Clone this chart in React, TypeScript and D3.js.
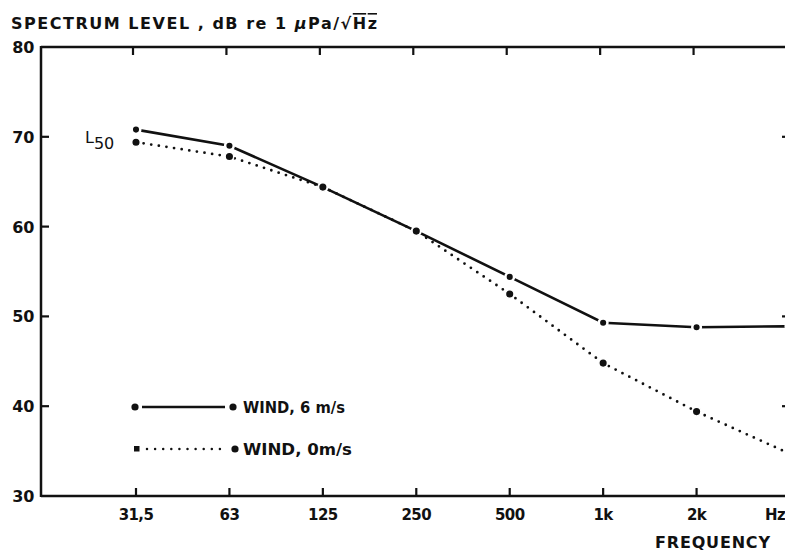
import React from "react";
import * as d3 from "d3";

const frequencies = ["31,5", "63", "125", "250", "500", "1k", "2k", "4k"];
const tickLabels = ["31,5", "63", "125", "250", "500", "1k", "2k"];
const wind6 = [70.8, 69.0, 64.4, 59.5, 54.4, 49.3, 48.8, 48.9];
const wind0 = [69.4, 67.8, 64.4, 59.5, 52.5, 44.8, 39.4, 34.7];
const yTicks = [30, 40, 50, 60, 70, 80];
const rightTicks = [40, 50, 70];

const W = 785;
const H = 551;
const FONT = "'DejaVu Sans', 'Liberation Sans', Arial, sans-serif";

export default function App() {
  const x = d3.scalePoint<string>().domain(frequencies).range([136, 790]).padding(0);
  const y = d3.scaleLinear().domain([30, 80]).range([496, 47]);
  const left = 41;
  const right = 791;
  const top = y(80);
  const bottom = y(30);

  const line = d3
    .line<number>()
    .x((_, i) => x(frequencies[i]) as number)
    .y((d) => y(d));

  const legendX1 = 135;
  const legendX2 = 233;
  const legendY1 = 407;
  const legendY2 = 449;

  return (
    <div style={{ position: "absolute", left: 0, top: 0, width: W, height: H, overflow: "hidden", background: "#fff" }}>
      <svg width={W} height={H} style={{ display: "block" }} fontFamily={FONT} fontWeight="bold">
        <rect x={0} y={0} width={W} height={H} fill="#fff" />
        {/* title */}
        <text x={11} y={29} fontSize={16} textLength={366} lengthAdjust="spacing" fill="#111">
          SPECTRUM LEVEL , dB re 1{" "}
          <tspan fontStyle="italic">μ</tspan>Pa/√
          <tspan textDecoration="overline">Hz</tspan>
        </text>

        {/* frame */}
        <g stroke="#111" strokeWidth={2.5} fill="none">
          <line x1={left} y1={top} x2={right} y2={top} />
          <line x1={left} y1={top - 1} x2={left} y2={bottom + 1} />
          <line x1={left} y1={bottom} x2={right} y2={bottom} />
          <line x1={right} y1={top} x2={right} y2={bottom} />
        </g>

        {/* y ticks */}
        {yTicks.map((t) => (
          <g key={"y" + t}>
            {t !== 30 && t !== 80 && (
              <line x1={left} x2={left + 8} y1={y(t)} y2={y(t)} stroke="#111" strokeWidth={2.2} />
            )}
            <text x={34} y={y(t)} dy="0.37em" textAnchor="end" fontSize={16} letterSpacing={-0.3} fill="#111">
              {t}
            </text>
          </g>
        ))}
        {rightTicks.map((t) => (
          <line key={"r" + t} x1={right - 9} x2={right} y1={y(t)} y2={y(t)} stroke="#111" strokeWidth={2.2} />
        ))}

        {/* x ticks */}
        {tickLabels.map((f) => {
          const xx = x(f) as number;
          return (
            <g key={"x" + f}>
              <line x1={xx} x2={xx} y1={bottom} y2={bottom - 8} stroke="#111" strokeWidth={2.2} />
              <line x1={xx - 3} x2={xx - 3} y1={top} y2={top + 8} stroke="#111" strokeWidth={2.2} />
              <text x={xx} y={520} textAnchor="middle" fontSize={15} letterSpacing={-0.6} fill="#111">
                {f}
              </text>
            </g>
          );
        })}
        <text x={765} y={520} fontSize={15} letterSpacing={-0.6} fill="#111">
          Hz
        </text>
        <text x={655} y={548} fontSize={16} textLength={115} lengthAdjust="spacing" fill="#111">
          FREQUENCY
        </text>

        {/* L50 label */}
        <text x={85} y={143} fontSize={16} fontWeight="normal" fill="#111">
          L
          <tspan dy={6} fontSize={16}>50</tspan>
        </text>

        {/* series */}
        <path d={line(wind0) || ""} fill="none" stroke="#111" strokeWidth={2.8} strokeDasharray="0 7.7" strokeLinecap="round" />
        <path d={line(wind6) || ""} fill="none" stroke="#111" strokeWidth={2.6} />
        {wind6.map((v, i) => (
          <circle key={"a" + i} cx={x(frequencies[i]) as number} cy={y(v)} r={4.3} fill="#111" stroke="#fff" strokeWidth={2.5} />
        ))}
        {wind0.map((v, i) => (
          <circle key={"b" + i} cx={x(frequencies[i]) as number} cy={y(v)} r={4.3} fill="#111" stroke="#fff" strokeWidth={1.5} />
        ))}

        {/* legend */}
        <line x1={legendX1 + 7} x2={legendX2 - 8} y1={legendY1} y2={legendY1} stroke="#111" strokeWidth={2.6} />
        <circle cx={legendX1} cy={legendY1} r={3.6} fill="#111" />
        <circle cx={legendX2} cy={legendY1} r={3.6} fill="#111" />
        <text x={243} y={413} fontSize={16} textLength={102} lengthAdjust="spacingAndGlyphs" fill="#111">
          WIND, 6 m/s
        </text>
        <line x1={legendX1 + 12} x2={legendX2 - 6} y1={legendY2} y2={legendY2} stroke="#111" strokeWidth={2.5} strokeDasharray="0 8.1" strokeLinecap="round" />
        <rect x={legendX1 - 1} y={legendY2 - 3} width={5.5} height={5.5} fill="#111" />
        <circle cx={legendX2 + 2} cy={legendY2} r={3.6} fill="#111" />
        <text x={243} y={455} fontSize={16} textLength={109} lengthAdjust="spacingAndGlyphs" fill="#111">
          WIND, 0m/s
        </text>
      </svg>
    </div>
  );
}
